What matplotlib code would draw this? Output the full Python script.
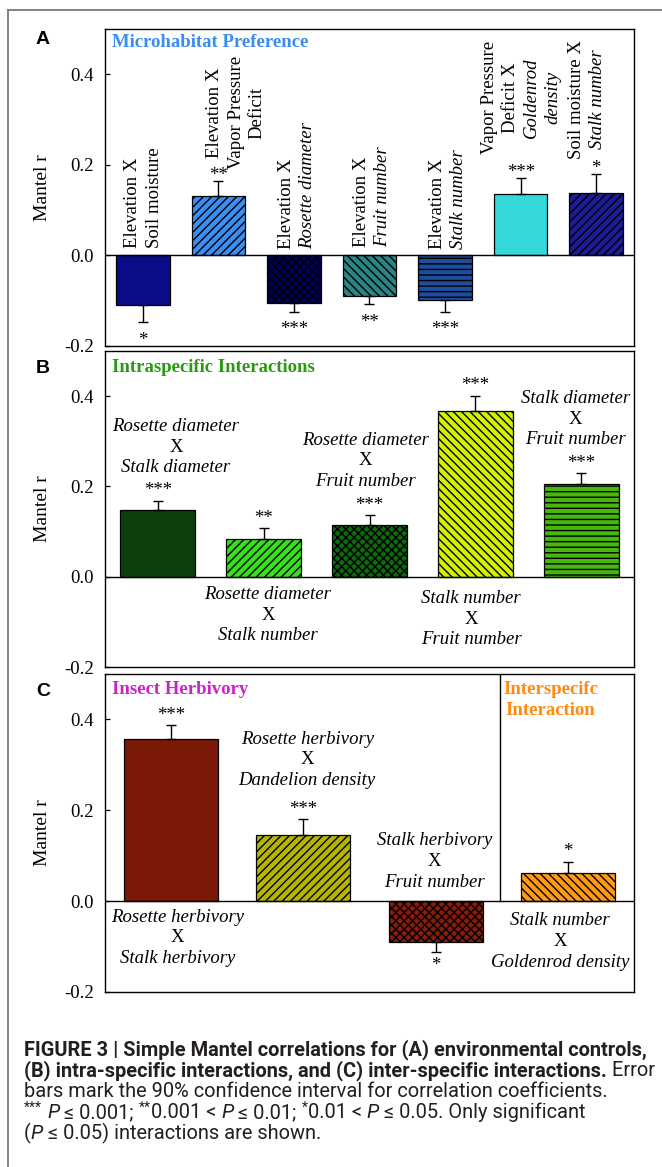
import matplotlib
matplotlib.use("Agg")
import matplotlib.pyplot as plt
from matplotlib import font_manager
from matplotlib.lines import Line2D

# ------------------------------------------------------------------ data
yticks = [-0.2, 0.0, 0.2, 0.4]
ytick_labels = ["-0.2", "0.0", "0.2", "0.4"]

# Panel A : Microhabitat preference
a_values = [-0.110, 0.132, -0.106, -0.089, -0.099, 0.135, 0.138]
a_errors = [0.037, 0.033, 0.018, 0.019, 0.025, 0.035, 0.041]
a_stars = ["*", "**", "***", "**", "***", "***", "*"]
a_labels = [
    [("Elevation X", False), ("Soil moisture", False)],
    [("Elevation X", False), ("Vapor Pressure", False), ("Deficit", False)],
    [("Elevation X", False), ("Rosette diameter", True)],
    [("Elevation X", False), ("Fruit number", True)],
    [("Elevation X", False), ("Stalk number", True)],
    [("Vapor Pressure", False), ("Deficit X", False), ("Goldenrod", True), ("density", True)],
    [("Soil moisture X", False), ("Stalk number", True)],
]

# Panel B : Intraspecific interactions
b_values = [0.148, 0.083, 0.114, 0.367, 0.206]
b_errors = [0.020, 0.024, 0.022, 0.033, 0.023]
b_stars = ["***", "**", "***", "***", "***"]
b_labels = [
    ("Rosette diameter", "Stalk diameter"),
    ("Rosette diameter", "Stalk number"),
    ("Rosette diameter", "Fruit number"),
    ("Stalk number", "Fruit number"),
    ("Stalk diameter", "Fruit number"),
]

# Panel C : Insect herbivory / interspecific interaction
c_values = [0.356, 0.146, -0.090, 0.061]
c_errors = [0.031, 0.034, 0.021, 0.025]
c_stars = ["***", "***", "*", "*"]
c_labels = [
    ("Rosette herbivory", "Stalk herbivory"),
    ("Rosette herbivory", "Dandelion density"),
    ("Stalk herbivory", "Fruit number"),
    ("Stalk number", "Goldenrod density"),
]

# ------------------------------------------------------------------ styles
a_colors = ["#0c0c88", "#3b8ff2", "#00005e", "#2a8585", "#1d4e9e", "#36d8da", "#1c1c96"]
a_hatch = [None, "////", "xxxx", "\\\\\\\\", "---", None, "////"]
b_colors = ["#0b400b", "#36e01c", "#0c6a0c", "#d2f000", "#46b80c"]
b_hatch = [None, "////", "xxxx", "\\\\\\\\", "---"]
c_colors = ["#7a1907", "#b5b500", "#8a1a0a", "#ff9a12"]
c_hatch = [None, "////", "xxxx", "\\\\\\\\"]

# layout of annotation text (offsets in bar units, y in data units)
a_lab_layout = [(-0.13, 0.016, "bottom"), (-0.045, 0.315, "center"), (-0.10, 0.014, "bottom"),
                (-0.10, 0.018, "bottom"), (-0.10, 0.014, "bottom"), (-0.41, 0.349, "center"),
                (-0.26, 0.345, "center")]
b_lab_layout = [(0.17, 0.287), (0.04, -0.085), (-0.04, 0.257), (-0.04, -0.094), (-0.05, 0.349)]
c_lab_layout = [(0.05, -0.081), (0.03, 0.311), (-0.01, 0.087), (-0.06, -0.089)]

W, H, DPI = 662, 1167, 100
FS = 13.5
plt.rcParams["font.family"] = ["Liberation Serif", "DejaVu Serif"]
plt.rcParams["hatch.linewidth"] = 1.0

fig = plt.figure(figsize=(W / DPI, H / DPI), dpi=DPI)
fig.patch.set_facecolor("white")

# outer frame
fig.add_artist(Line2D([8 / W, 8 / W], [0, 1 - 10 / H], transform=fig.transFigure,
                      color="#7a7a7a", lw=1.3))
fig.add_artist(Line2D([8 / W, 1.0], [1 - 10 / H, 1 - 10 / H], transform=fig.transFigure,
                      color="#7a7a7a", lw=1.3))

AX_L, AX_R = 105, 634
panels_px = [(29, 346), (351, 667), (674, 992)]


def make_ax(top, bottom):
    ax = fig.add_axes([AX_L / W, 1 - bottom / H, (AX_R - AX_L) / W, (bottom - top) / H])
    ax.set_ylim(-0.2, 0.5)
    ax.set_yticks(yticks)
    ax.set_yticklabels(ytick_labels)
    ax.tick_params(axis="y", direction="in", length=3.5, width=0.9, labelsize=FS, pad=8)
    ax.set_xticks([])
    for s in ax.spines.values():
        s.set_linewidth(1.0)
    ax.axhline(0, color="black", lw=1.0, zorder=3)
    ax.text(-0.119, 0.5, "Mantel r", transform=ax.transAxes, rotation=90,
            ha="center", va="center", fontsize=14)
    return ax


def draw_bars(ax, values, errors, colors, hatches, stars, star_pos, star_neg):
    x = list(range(len(values)))
    for i, v in enumerate(values):
        ax.bar(i, v, width=0.71, color=colors[i], edgecolor="black", linewidth=0.9,
               hatch=hatches[i], zorder=2)
    lower = [e if v < 0 else 0 for v, e in zip(values, errors)]
    upper = [e if v > 0 else 0 for v, e in zip(values, errors)]
    ax.errorbar(x, values, yerr=[lower, upper], fmt="none", ecolor="black",
                elinewidth=1.0, capsize=3.3, capthick=1.0, zorder=4)
    asc = 0.47 * FS  # asterisk glyph centre above baseline (points)
    for i, (v, e) in enumerate(zip(values, errors)):
        if v > 0:
            off = star_pos * 0.72 - asc
            yy = v + e
        else:
            off = -star_neg * 0.72 - asc
            yy = v - e
        ax.annotate(stars[i], xy=(i, yy), xytext=(0, off), textcoords="offset points",
                    ha="center", va="baseline", fontsize=FS)


# ---------------- Panel A
axA = make_ax(*panels_px[0])
axA.set_xlim(-0.5, len(a_values) - 0.5)
draw_bars(axA, a_values, a_errors, a_colors, a_hatch, a_stars, 10, 14)
for i, lines in enumerate(a_labels):
    x0, y0, va = a_lab_layout[i]
    for j, (txt, ital) in enumerate(lines):
        axA.text(i + x0 + j * 0.279, y0, txt, rotation=90, ha="center", va=va,
                 fontsize=FS, style="italic" if ital else "normal",
                 rotation_mode="default")
axA.text(0.013, 0.47, "Microhabitat Preference", transform=axA.get_yaxis_transform(),
         ha="left", va="center", fontsize=FS, fontweight="bold", color="#3a8cf2")

# ---------------- Panel B / C helper for 3-line labels
LS = 0.0458


def three_line(ax, i, dx, yc, pair):
    ax.text(i + dx, yc + LS, pair[0], ha="center", va="center", fontsize=FS, style="italic")
    ax.text(i + dx, yc, "X", ha="center", va="center", fontsize=FS)
    ax.text(i + dx, yc - LS, pair[1], ha="center", va="center", fontsize=FS, style="italic")


axB = make_ax(*panels_px[1])
axB.set_xlim(-0.5, len(b_values) - 0.5)
draw_bars(axB, b_values, b_errors, b_colors, b_hatch, b_stars, 14.5, 14)
for i, pair in enumerate(b_labels):
    three_line(axB, i, b_lab_layout[i][0], b_lab_layout[i][1], pair)
axB.text(0.013, 0.463, "Intraspecific Interactions", transform=axB.get_yaxis_transform(),
         ha="left", va="center", fontsize=FS, fontweight="bold", color="#2a9a12")

axC = make_ax(*panels_px[2])
axC.set_xlim(-0.5, len(c_values) - 0.5)
draw_bars(axC, c_values, c_errors, c_colors, c_hatch, c_stars, 14.5, 10)
for i, pair in enumerate(c_labels):
    three_line(axC, i, c_lab_layout[i][0], c_lab_layout[i][1], pair)
axC.plot([2.49, 2.49], [0, 0.5], color="black", lw=1.0, zorder=3)
axC.text(0.013, 0.465, "Insect Herbivory", transform=axC.get_yaxis_transform(),
         ha="left", va="center", fontsize=FS, fontweight="bold", color="#cc22cc")
axC.text(2.87, 0.465, "Interspecifc", ha="center", va="center", fontsize=FS,
         fontweight="bold", color="#ff8a10")
axC.text(2.87, 0.42, "Interaction", ha="center", va="center", fontsize=FS,
         fontweight="bold", color="#ff8a10")

# panel letters
for lab, ypx in zip(["A", "B", "C"], [39.5, 368, 691]):
    fig.text(43 / W, 1 - ypx / H, lab, ha="center", va="center", fontsize=14,
             fontweight="bold", family=["Liberation Sans", "DejaVu Sans"])

# ---------------- caption
names = {f.name for f in font_manager.fontManager.ttflist}
cap_fam = "Liberation Sans Narrow" if "Liberation Sans Narrow" in names else "Roboto"
cap_family = [cap_fam, "DejaVu Sans"]
renderer = fig.canvas.get_renderer()


def seg_width(s, **kw):
    t1 = fig.text(0, 0, "x" + s + "x", **kw)
    t2 = fig.text(0, 0, "xx", **kw)
    w = t1.get_window_extent(renderer).width - t2.get_window_extent(renderer).width
    t1.remove()
    t2.remove()
    return w


caption = [
    [("FIGURE 3 | Simple Mantel correlations for (A) environmental controls,", "b")],
    [("(B) intra-specific interactions, and (C) inter-specific interactions.", "b"),
     (" Error", "n")],
    [("bars mark the 90% confidence interval for correlation coefficients.", "n")],
    [("***", "s"), (" ", "n"), ("P", "i"), (" \u2264 0.001; ", "n"), ("**", "s"),
     ("0.001 < ", "n"), ("P", "i"), (" \u2264 0.01; ", "n"), ("*", "s"), ("0.01 < ", "n"),
     ("P", "i"), (" \u2264 0.05. Only significant", "n")],
    [("(", "n"), ("P", "i"), (" \u2264 0.05) interactions are shown.", "n")],
]


def seg_kw(kind, size):
    kw = dict(family=cap_family, fontsize=size, color="#231f20")
    rise = 0.0
    if kind == "b":
        kw["fontweight"] = "bold"
    elif kind == "i":
        kw["style"] = "italic"
    elif kind == "s":
        kw["fontsize"] = size * 0.7
        rise = size * 0.3 * DPI / 72
    return kw, rise


def line_width(segs, size):
    return sum(seg_width(s, **seg_kw(k, size)[0]) for s, k in segs)


CFS = 12 * 631 / max(line_width(caption[0], 12), line_width(caption[1], 12))

baselines = [1055, 1076, 1097, 1118, 1139]
for segs, base in zip(caption, baselines):
    xcur = 24.0
    for s, kind in segs:
        kw, rise = seg_kw(kind, CFS)
        fig.text(xcur / W, 1 - (base - rise) / H, s, ha="left", va="baseline", **kw)
        xcur += seg_width(s, **kw)

fig.savefig("out.png", dpi=DPI, facecolor="white")
